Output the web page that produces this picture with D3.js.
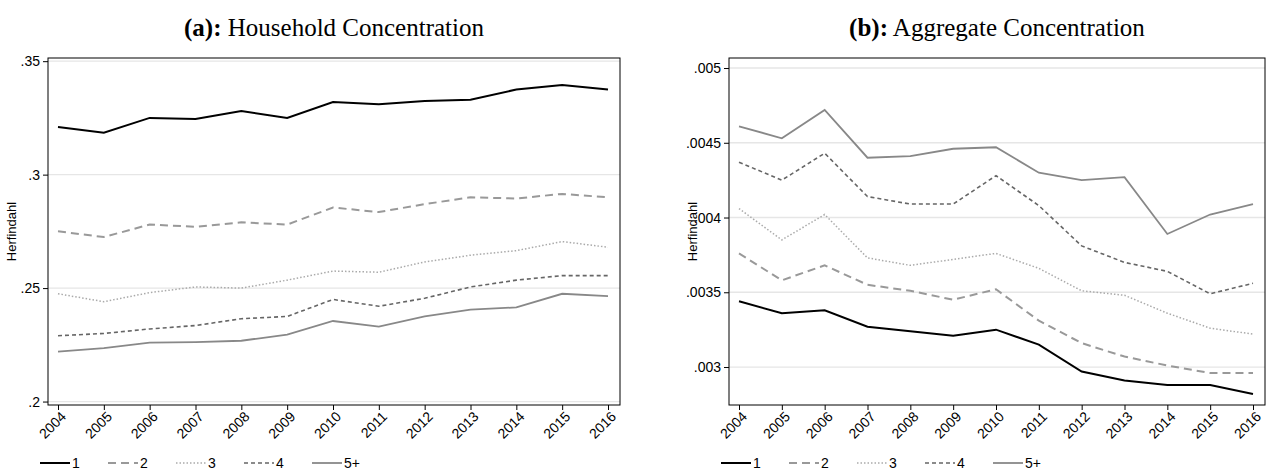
<!DOCTYPE html><html><head><meta charset="utf-8">
<script src="https://cdn.jsdelivr.net/npm/d3@7"></script>
<style>body{margin:0;background:#fff}svg{display:block}</style></head><body>
<svg id="c" width="1267" height="475"></svg>
<script>
const years=[2004,2005,2006,2007,2008,2009,2010,2011,2012,2013,2014,2015,2016];
const seriesNames=["1","2","3","4","5+"];
const hh1=[.321,.3185,.325,.3245,.328,.325,.332,.331,.3325,.333,.3375,.3395,.3375];
const hh2=[.275,.2725,.278,.277,.279,.278,.2855,.2835,.287,.29,.2895,.2915,.29];
const hh3=[.2475,.244,.248,.2505,.250,.2535,.2575,.257,.2615,.2645,.2665,.2705,.268];
const hh4=[.229,.230,.232,.2335,.2365,.2375,.245,.242,.2455,.2505,.2535,.2555,.2555];
const hh5=[.222,.2235,.226,.2262,.2268,.2295,.2355,.233,.2375,.2405,.2415,.2475,.2465];
const ag1=[.00344,.00336,.00338,.00327,.00324,.00321,.00325,.00315,.00297,.00291,.00288,.00288,.00282];
const ag2=[.00376,.00358,.00368,.00355,.00351,.00345,.00352,.00331,.00316,.00307,.00301,.00296,.00296];
const ag3=[.00406,.00385,.00402,.00373,.00368,.00372,.00376,.00366,.00351,.00348,.00336,.00326,.00322];
const ag4=[.00437,.00425,.00443,.00414,.00409,.00409,.00428,.00408,.00381,.00370,.00364,.00349,.00356];
const ag5=[.00461,.00453,.00472,.00440,.00441,.00446,.00447,.00430,.00425,.00427,.00389,.00402,.00409];
const hhTicks=[.2,.25,.3,.35], hhLabels=[".2",".25",".3",".35"];
const agTicks=[.003,.0035,.004,.0045,.005], agLabels=[".003",".0035",".004",".0045",".005"];

const styles=[{c:"#000",w:2,d:null},{c:"#999",w:2,d:"8,5"},{c:"#aaa",w:1.5,d:"1.5,2"},{c:"#666",w:1.6,d:"4,3"},{c:"#888",w:1.8,d:null}];
const svg=d3.select("#c");
const sans="Liberation Sans, Arial";
function panel(o){
  const g=svg.append("g");
  const x=d3.scaleLinear().domain([2004,2016]).range([o.x0+10,o.x1-12]);
  const y=d3.scaleLinear().domain(o.dom).range([o.bot,o.top]);
  g.selectAll(".gl").data(o.ticks).join("line").attr("x1",o.x0).attr("x2",o.x1)
   .attr("y1",d=>y(d)).attr("y2",d=>y(d)).attr("stroke","#e6e6e6").attr("stroke-width",1.3);
  g.append("rect").attr("x",o.x0).attr("y",o.top).attr("width",o.x1-o.x0).attr("height",o.bot-o.top)
   .attr("fill","none").attr("stroke","#000").attr("stroke-width",1);
  const ya=g.append("g").attr("transform",`translate(${o.x0},0)`)
   .call(d3.axisLeft(y).tickValues(o.ticks).tickFormat((d,i)=>o.labels[i]).tickSize(5).tickSizeOuter(0));
  ya.select(".domain").remove();
  ya.selectAll("text").attr("font-family",sans).attr("font-size",14).attr("fill","#000");
  const xa=g.append("g").attr("transform",`translate(0,${o.bot})`)
   .call(d3.axisBottom(x).tickValues(years).tickFormat(d3.format("d")).tickSize(5).tickSizeOuter(0));
  xa.select(".domain").remove();
  xa.selectAll("text").attr("font-family",sans).attr("font-size",14).attr("fill","#000")
   .attr("text-anchor","end").attr("dx","-0.2em").attr("dy","0.5em").attr("transform","rotate(-45)");
  g.append("text").attr("transform",`translate(${o.x0-32},${(o.top+o.bot)/2}) rotate(-90)`)
   .attr("text-anchor","middle").attr("font-family",sans).attr("font-size",13).text("Herfindahl");
  const line=d3.line().x((d,i)=>x(years[i])).y(d=>y(d));
  o.data.forEach((s,i)=>{
    const st=styles[i];
    g.append("path").attr("d",line(s)).attr("fill","none").attr("stroke",st.c).attr("stroke-width",st.w)
     .attr("stroke-dasharray",st.d);
  });
  const t=g.append("text").attr("x",(o.x0+o.x1)/2).attr("y",36).attr("text-anchor","middle")
   .attr("font-family","Liberation Serif, DejaVu Serif, serif").attr("font-size",25);
  t.append("tspan").attr("font-weight","bold").text(o.tag);
  t.append("tspan").text(" "+o.title);
  let lx=o.x0-8;
  seriesNames.forEach((n,i)=>{
    const st=styles[i];
    g.append("line").attr("x1",lx).attr("x2",lx+30).attr("y1",463).attr("y2",463).attr("stroke",st.c)
     .attr("stroke-width",st.w).attr("stroke-dasharray",st.d);
    g.append("text").attr("x",lx+32).attr("y",468).attr("font-family",sans).attr("font-size",14).text(n);
    lx+=68;
  });
}
panel({x0:48,x1:620,top:58,bot:405,dom:[.19848,.3514],ticks:hhTicks,labels:hhLabels,data:[hh1,hh2,hh3,hh4,hh5],tag:"(a):",title:"Household Concentration"});
panel({x0:729,x1:1265,top:58,bot:405,dom:[.002746,.005067],ticks:agTicks,labels:agLabels,data:[ag1,ag2,ag3,ag4,ag5],tag:"(b):",title:"Aggregate Concentration"});
</script></body></html>
